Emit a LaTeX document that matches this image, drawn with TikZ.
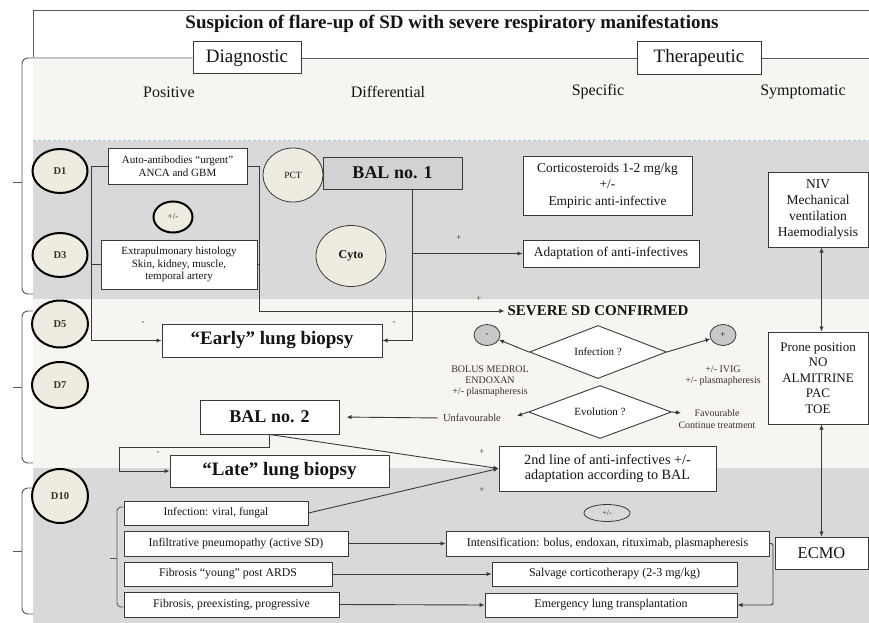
\documentclass[tikz,border=0pt]{standalone}
\usepackage{fontspec}
\setmainfont{Liberation Serif}
\usetikzlibrary{shapes.geometric,arrows.meta}
\definecolor{gbg}{HTML}{D9D9D9}
\definecolor{lbg}{HTML}{F6F5F2}
\definecolor{beige}{HTML}{EEEBE0}
\definecolor{bord}{HTML}{3A3A3A}
\definecolor{txt}{HTML}{141414}
\definecolor{notec}{HTML}{3A3129}
\definecolor{dashc}{HTML}{9DC3E6}
\definecolor{balg}{HTML}{D2D2D2}
\definecolor{circg}{HTML}{C8C8C8}
\tikzset{
  box/.style={draw=bord, fill=white, line width=1pt, inner sep=1pt, align=center, text=txt},
  dcirc/.style={ellipse, draw=black, line width=2pt, fill=beige, inner sep=0pt, text=notec,
    font=\fontsize{10.5}{12}\selectfont\bfseries},
  bubble/.style={ellipse, draw=bord, line width=0.8pt, fill=beige, inner sep=0pt, text=txt},
  decision/.style={diamond, shape aspect=2.6, draw=bord, fill=white, line width=0.9pt, inner sep=0pt,
    text=txt, font=\fontsize{11}{13}\selectfont},
  sign/.style={ellipse, draw=bord, line width=0.8pt, fill=circg, inner sep=0pt, text=txt,
    font=\fontsize{9}{10}\selectfont, minimum width=26pt, minimum height=21pt},
  notetxt/.style={align=center, text=notec, inner sep=1pt},
  lbl/.style={text=notec, inner sep=0pt, font=\fontsize{9}{10}\selectfont},
  head/.style={text=txt, font=\fontsize{16}{18}\selectfont},
  arr/.style={-{Latex[length=5pt,width=4.5pt]}, draw=bord, line width=0.9pt},
  darr/.style={{Latex[length=5pt,width=4.5pt]}-{Latex[length=5pt,width=4.5pt]}, draw=bord, line width=0.9pt},
  link/.style={draw=bord, line width=0.9pt},
  frame/.style={draw=bord!85, line width=0.9pt},
}
\begin{document}
\begin{tikzpicture}[x=1pt,y=-1pt]
\useasboundingbox (0,0) rectangle (869,623);
% backgrounds
\fill[white] (0,0) rectangle (869,623);
\fill[lbg] (33,60) rectangle (869,140);
\fill[gbg] (33,141) rectangle (869,299);
\fill[lbg] (33,299) rectangle (869,468);
\fill[gbg] (33,468) rectangle (869,623);
\draw[dashc, line width=0.8pt, dash pattern=on 3pt off 2pt] (33,140) -- (869,140);

% title frame
\draw[frame] (33,57) -- (33,10) -- (869,10);
\node[text=txt, font=\fontsize{19}{22}\selectfont\bfseries] (title) at (452,24)
  {Suspicion of flare-up of SD with severe respiratory manifestations};
\node[box, minimum width=108pt, minimum height=32pt, font=\fontsize{19}{22}\selectfont] (diag) at (247,58) {Diagnostic};
\node[box, minimum width=124pt, minimum height=33pt, font=\fontsize{19}{22}\selectfont] (ther) at (699,58) {Therapeutic};
\draw[frame, rounded corners=6pt] (diag.west) -- (22,58) -- (22,294) -- (33,294);
\draw[frame] (22,182) -- (13,182);
\draw[frame] (diag.east) -- (ther.west);
\draw[frame] (ther.east) -- (869,58);
\draw[frame, rounded corners=6pt] (33,311) -- (22,311) -- (22,463) -- (33,463);
\draw[frame] (22,387) -- (13,387);
\draw[frame, rounded corners=6pt] (33,488) -- (22,488) -- (22,614) -- (33,614);
\draw[frame] (22,551) -- (13,551);

% column heads
\node[head] (hpos) at (169,92) {Positive};
\node[head] (hdif) at (388,92) {Differential};
\node[head] (hspe) at (598,92) {Specific};
\node[head] (hsym) at (803,92) {Symptomatic};

% day markers
\node[dcirc, minimum width=55pt, minimum height=44pt] (d1) at (60,171) {D1};
\node[dcirc, minimum width=55pt, minimum height=44pt] (d3) at (60,255) {D3};
\node[dcirc, minimum width=56pt, minimum height=47pt] (d5) at (60,324) {D5};
\node[dcirc, minimum width=56pt, minimum height=46pt] (d7) at (60,385) {D7};
\node[dcirc, minimum width=56pt, minimum height=54pt] (d10) at (60,496) {D10};

% positive diagnosis
\node[box, minimum width=139pt, minimum height=36pt, font=\fontsize{11}{13}\selectfont] (auto) at (177.5,166)
  {Auto-antibodies “urgent”\\ANCA and GBM};
\node[ellipse, draw=black, line width=2pt, fill=beige, inner sep=0pt, minimum width=39pt, minimum height=31pt,
  text=notec, font=\fontsize{9}{10}\selectfont] (pm1) at (173,217) {+/-};
\node[box, minimum width=156pt, minimum height=49pt, font=\fontsize{11}{12.5}\selectfont] (extra) at (179,264.5)
  {Extrapulmonary histology\\Skin, kidney, muscle,\\temporal artery};

% differential
\node[box, fill=balg, minimum width=139pt, minimum height=32pt, font=\fontsize{18}{20}\selectfont\bfseries] (bal1) at (392.5,173) {BAL no. 1};
\node[bubble, minimum width=60pt, minimum height=54pt, font=\fontsize{9.5}{11}\selectfont] (pct) at (293,175) {PCT};
\node[bubble, minimum width=70pt, minimum height=61pt, font=\fontsize{12}{14}\selectfont\bfseries] (cyto) at (351,256) {Cyto};

% specific
\node[box, minimum width=169pt, minimum height=59pt, font=\fontsize{13.4}{16.5}\selectfont] (cort) at (607.5,185.5)
  {Corticosteroids 1-2 mg/kg\\+/-\\Empiric anti-infective};
\node[box, minimum width=176pt, minimum height=27pt, font=\fontsize{13.4}{15}\selectfont] (adapt) at (611,253.5)
  {Adaptation of anti-infectives};

% symptomatic
\node[box, minimum width=100pt, minimum height=75pt, font=\fontsize{13.5}{16}\selectfont] (niv) at (818,209.5)
  {NIV\\Mechanical\\ventilation\\Haemodialysis};
\node[box, minimum width=100pt, minimum height=92pt, font=\fontsize{13}{15.5}\selectfont] (prone) at (818,378)
  {Prone position\\NO\\ALMITRINE\\PAC\\TOE};
\node[box, minimum width=93pt, minimum height=32pt, font=\fontsize{16.5}{19}\selectfont] (ecmo) at (821.5,553) {ECMO};
\draw[darr] (niv.south -| ecmo.north) -- (prone.north -| ecmo.north);
\draw[darr] (prone.south -| ecmo.north) -- (ecmo.north);

% confirmed branch
\node[text=txt, inner sep=3pt, font=\fontsize{15}{17}\selectfont\bfseries] (severe) at (598,311) {SEVERE SD CONFIRMED};
\node[decision, minimum width=137pt, minimum height=53pt] (inf) at (598,352) {Infection ?};
\node[sign] (minus) at (487,335) {-};
\node[sign] (plus) at (723,335) {+};
\draw[arr] (inf.west) -- (minus);
\draw[arr] (inf.east) -- (plus);
\node[notetxt, font=\fontsize{10}{11}\selectfont] (bolus) at (490,381) {BOLUS MEDROL\\ENDOXAN\\+/- plasmapheresis};
\node[notetxt, font=\fontsize{10}{11}\selectfont] (ivig) at (723,376) {+/- IVIG\\+/- plasmapheresis};
\node[decision, minimum width=143pt, minimum height=53pt] (evo) at (600,412) {Evolution ?};
\node[notetxt, font=\fontsize{10.5}{12}\selectfont] (unfav) at (472,418) {Unfavourable};
\node[notetxt, font=\fontsize{10}{12}\selectfont] (fav) at (717,419) {Favourable\\Continue treatment};
\coordinate (ua) at (517,416);
\coordinate (fa) at (681,413);
\draw[arr] (evo.west) -- (ua);
\draw[arr] (evo.east) -- (fa);

% biopsies and BAL 2
\node[box, minimum width=220pt, minimum height=33pt, font=\fontsize{19}{21}\selectfont\bfseries] (early) at (272,340.5) {“Early” lung biopsy};
\node[box, minimum width=139pt, minimum height=34pt, font=\fontsize{18}{20}\selectfont\bfseries] (bal2) at (269.5,417) {BAL no. 2};
\node[box, minimum width=219pt, minimum height=32pt, font=\fontsize{19}{21}\selectfont\bfseries] (late) at (279.5,471) {“Late” lung biopsy};
\node[box, minimum width=217pt, minimum height=45pt, font=\fontsize{14.2}{15.5}\selectfont] (second) at (607.5,468.5)
  {2nd line of anti-infectives +/-\\adaptation according to BAL};
\node[ellipse, draw=bord, line width=0.8pt, inner sep=0pt, minimum width=46pt, minimum height=17pt,
  text=notec, font=\fontsize{8}{9}\selectfont] (pm2) at (607,513) {+/-};
\draw[arr, shorten <=4pt, shorten >=7pt] (unfav.west) -- (bal2.east);

% late lesions
\node[box, minimum width=184pt, minimum height=24pt, font=\fontsize{11.5}{13}\selectfont] (infb) at (216,513) {Infection: viral, fungal};
\node[box, minimum width=224pt, minimum height=25pt, font=\fontsize{11.8}{13}\selectfont] (infil) at (236,543.5) {Infiltrative pneumopathy (active SD)};
\node[box, minimum width=208pt, minimum height=24pt, font=\fontsize{11.8}{13}\selectfont] (fiby) at (228,574) {Fibrosis “young” post ARDS};
\node[box, minimum width=215pt, minimum height=25pt, font=\fontsize{11.8}{13}\selectfont] (fibp) at (231.5,604.5) {Fibrosis, preexisting, progressive};
\draw[frame, rounded corners=4pt] (infb.west |- 0,507) -- (117,507) -- (117,607) -- (fibp.west |- 0,607);
\draw[frame] (117,558) -- (110,558);
\node[box, minimum width=323pt, minimum height=25pt, font=\fontsize{12}{13}\selectfont] (intens) at (607.5,543.5)
  {Intensification: bolus, endoxan, rituximab, plasmapheresis};
\node[box, minimum width=245pt, minimum height=24pt, font=\fontsize{12}{13}\selectfont] (salv) at (614.5,574) {Salvage corticotherapy (2-3 mg/kg)};
\node[box, minimum width=252pt, minimum height=24pt, font=\fontsize{12}{13}\selectfont] (emerg) at (611,605) {Emergency lung transplantation};
\draw[arr] (infil.east) -- (intens.west);
\draw[arr] (fiby.east) -- (salv.west);
\draw[arr] (fibp.east) -- (emerg.west);
\coordinate (ie) at (773,605);
\draw[arr, rounded corners=2pt] (intens.east) -| (ie) -- (emerg.east);

% connectors of the diagnostic part
\coordinate (lbb) at (91,340.5);
\coordinate (rbb) at (259,311);
\draw[arr] (auto.west) -| (lbb) -- (early.west);
\draw[link] (extra.west) -- (extra.west -| lbb);
\draw[arr] (auto.east) -| (rbb) -- (severe.west);
\draw[link] (extra.east) -- (extra.east -| rbb);
\coordinate (bb) at (412,340.5);
\coordinate (bbm) at (412,253.5);
\draw[arr] (bal1.south -| bb) -- (bb) -- (early.east);
\draw[arr] (bbm) -- (adapt.west);
\coordinate (l1) at (269.5,447);
\coordinate (l2) at (119,447);
\draw[arr] (bal2.south) -- (l1) -- (l2) |- (late.west);
\draw[arr] (bal2.south) -- (second.west);
\draw[arr] (infb.east) -- (second.west);

% signs on connectors
\node[lbl] (s1) at (143,323) {-};
\node[lbl] (s2) at (394,323) {-};
\node[lbl] (s3) at (459,238) {+};
\node[lbl] (s4) at (479,299) {+};
\node[lbl] (s5) at (158,453) {-};
\node[lbl] (s6) at (482,452) {+};
\node[lbl] (s7) at (482,490) {+};
\end{tikzpicture}
\end{document}
